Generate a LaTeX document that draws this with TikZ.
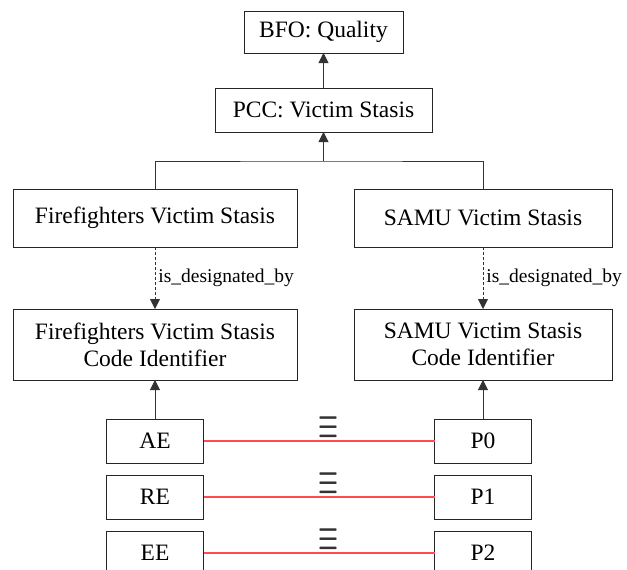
\documentclass[tikz,border=0pt]{standalone}
\usepackage{fontspec}
\setmainfont{Liberation Serif}
\usepackage{tikz}
\usetikzlibrary{positioning,arrows.meta}

\begin{document}
\begin{tikzpicture}[x=1pt, y=-1pt,
        boxnode/.style={rectangle, draw=black!85, line width=0.9pt, inner sep=0pt, outer sep=0pt, align=center, font=\fontsize{23.5}{27}\selectfont},
        codenode/.style={boxnode, minimum width=97pt, minimum height=44pt},
        isaline/.style={draw=black!80, line width=0.9pt, -{Triangle[length=10pt,width=10pt]}},
        desline/.style={isaline, dash pattern=on 3pt off 2pt},
        eqline/.style={draw=red!70, line width=1.4pt},
        eqsign/.style={pos=0.54, yshift=14pt, text=black!80, inner sep=0pt, font=\fontsize{23}{27}\selectfont\boldmath},
        linklabel/.style={right, xshift=3pt, inner sep=0pt, font=\fontsize{19.5}{22}\selectfont}]

        \useasboundingbox (0,0) rectangle (627,570);

        \node[boxnode, minimum width=159pt, minimum height=42pt] (bfo) at (323.5,32) {BFO: Quality};
        \node[boxnode, minimum width=217pt, minimum height=44pt] (pcc) [below=35pt of bfo] {PCC: Victim Stasis};
        \coordinate[below=29pt of pcc] (junc);

        \node[boxnode, minimum width=284pt, minimum height=58pt] (ffvs) at (155,218) {Firefighters Victim Stasis};
        \node[boxnode, minimum width=258pt, minimum height=58pt] (samuvs) [right=57pt of ffvs] {SAMU Victim Stasis};
        \node[boxnode, minimum width=284pt, minimum height=71pt] (ffci) [below=62pt of ffvs] {Firefighters Victim Stasis\\Code Identifier};
        \node[boxnode, minimum width=258pt, minimum height=71pt] (samuci) [below=62pt of samuvs] {SAMU Victim Stasis\\Code Identifier};

        \node[codenode] (ae) [below=39pt of ffci] {AE};
        \node[codenode] (re) [below=12pt of ae] {RE};
        \node[codenode] (ee) [below=12pt of re] {EE};
        \node[codenode] (p0) [below=39pt of samuci] {P0};
        \node[codenode] (p1) [below=12pt of p0] {P1};
        \node[codenode] (p2) [below=12pt of p1] {P2};

        \draw[isaline] (pcc) -- (bfo);
        \draw[draw=black!80, line width=0.9pt] (ffvs.north) |- (junc) -| (samuvs.north);
        \draw[isaline] (junc) -- (pcc);

        \draw[desline] (ffvs) -- node[linklabel] {is\_designated\_by} (ffci);
        \draw[desline] (samuvs) -- node[linklabel] {is\_designated\_by} (samuci);
        \draw[isaline] (ae) -- (ffci);
        \draw[isaline] (p0) -- (samuci);

        \draw[eqline] (ae) -- node[eqsign] {\scalebox{0.9}[1.65]{$\equiv$}} (p0);
        \draw[eqline] (re) -- node[eqsign] {\scalebox{0.9}[1.65]{$\equiv$}} (p1);
        \draw[eqline] (ee) -- node[eqsign] {\scalebox{0.9}[1.65]{$\equiv$}} (p2);

\end{tikzpicture}
\end{document}
